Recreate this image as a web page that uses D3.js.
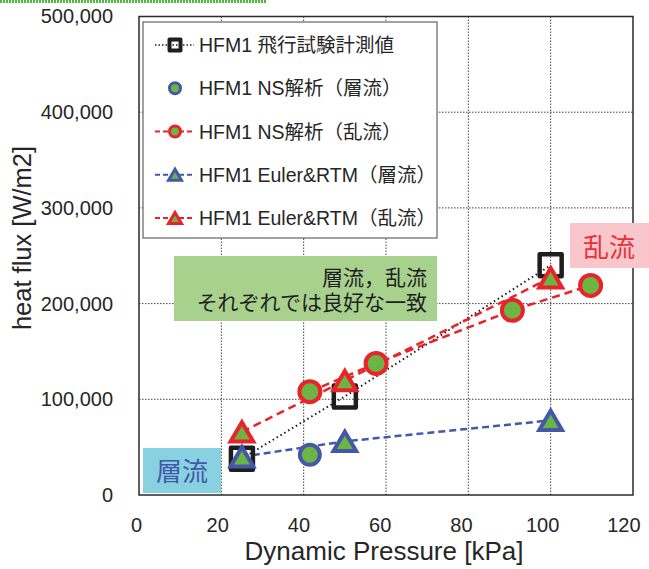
<!DOCTYPE html>
<html>
<head>
<meta charset="utf-8">
<script src="https://cdn.jsdelivr.net/npm/d3@7"></script>
<style>
  body { margin: 0; background: #fff; }
  svg text { font-family: "Liberation Sans", Arial, "Noto Sans CJK JP", sans-serif; fill: #262626; }
</style>
</head>
<body>
<svg width="649" height="569"></svg>
<script>
// ---------------- data ----------------
const flightP = [25, 50, 100];
const flightQ = [38000, 103000, 240000];

const nsLamP = [41.5];
const nsLamQ = [42000];

const nsTurbP = [41.5, 57.6, 90.7, 109.7];
const nsTurbQ = [108000, 137500, 193000, 219000];

const eulerLamP = [25, 50, 100];
const eulerLamQ = [40000, 56000, 78000];

const eulerTurbP = [25, 50, 100];
const eulerTurbQ = [66000, 119500, 227000];

const xTicks = [0, 20, 40, 60, 80, 100, 120];
const yTicks = [0, 100000, 200000, 300000, 400000, 500000];

const legendLabels = [
  'HFM1 飛行試験計測値',
  'HFM1 NS解析（層流）',
  'HFM1 NS解析（乱流）',
  'HFM1 Euler&RTM（層流）',
  'HFM1 Euler&RTM（乱流）'
];

// ---------------- setup ----------------
const RED = '#e8242a', BLUE = '#4458a8', GREEN = '#6cb443', BLACK = '#1e1e1e';

const svg = d3.select('svg');
const x = d3.scaleLinear().domain([0, 120]).range([139, 633]);
const y = d3.scaleLinear().domain([0, 500000]).range([495, 16.5]);

const zip = (a, b) => a.map((v, i) => [v, b[i]]);

// green dotted strip on top
svg.append('line')
  .attr('x1', 0).attr('x2', 266).attr('y1', 1.5).attr('y2', 1.5)
  .attr('stroke', '#4cbb3a').attr('stroke-width', 3).attr('stroke-dasharray', '2,1');

// grid
const grid = svg.append('g').attr('stroke', '#444').attr('stroke-width', 1).attr('stroke-dasharray', '1.5,1.5');
grid.selectAll('.gx').data(xTicks.slice(1, -1)).join('line')
  .attr('x1', d => x(d)).attr('x2', d => x(d)).attr('y1', y(0)).attr('y2', y(500000));
grid.selectAll('.gy').data(yTicks.slice(1, -1)).join('line')
  .attr('y1', d => y(d)).attr('y2', d => y(d)).attr('x1', x(0)).attr('x2', x(120));

// axes (labels only; frame drawn separately)
const xAxis = svg.append('g').attr('transform', `translate(0,${y(0)})`)
  .call(d3.axisBottom(x).tickValues(xTicks).tickSize(0).tickPadding(23));
const yAxis = svg.append('g').attr('transform', `translate(${x(0)},0)`)
  .call(d3.axisLeft(y).tickValues(yTicks).tickSize(0).tickPadding(26).tickFormat(d3.format(',')));
[xAxis, yAxis].forEach(a => {
  a.select('.domain').remove();
  a.selectAll('text').attr('font-size', 20).attr('fill', '#262626')
    .attr('font-family', '"Liberation Sans", Arial, sans-serif');
});
// x labels in the original drift a little to the left
xAxis.selectAll('text').attr('dx', d => -(3 + d * 0.055));

// frame
svg.append('rect')
  .attr('x', x(0)).attr('y', y(500000)).attr('width', x(120) - x(0)).attr('height', y(0) - y(500000))
  .attr('fill', 'none').attr('stroke', '#2a2a2a').attr('stroke-width', 1.5);

// axis titles
svg.append('text').attr('x', 384).attr('y', 560).attr('text-anchor', 'middle')
  .attr('font-size', 26).text('Dynamic Pressure [kPa]');
svg.append('text').attr('transform', 'translate(31,238) rotate(-90)').attr('text-anchor', 'middle')
  .attr('font-size', 25.5).text('heat flux [W/m2]');

// annotation boxes
svg.append('rect').attr('x', 174).attr('y', 256).attr('width', 263).attr('height', 65).attr('fill', '#a9d18e');
svg.append('text').attr('x', 427).attr('y', 285).attr('text-anchor', 'end').attr('font-size', 21)
  .style('fill', '#1e1e1e').text('層流，乱流');
svg.append('text').attr('x', 427).attr('y', 310).attr('text-anchor', 'end').attr('font-size', 21)
  .style('fill', '#1e1e1e').text('それぞれでは良好な一致');

svg.append('rect').attr('x', 570).attr('y', 223).attr('width', 79).attr('height', 45).attr('fill', '#f8c6cb');
svg.append('text').attr('x', 609).attr('y', 257).attr('text-anchor', 'middle').attr('font-size', 26)
  .style('fill', '#e8323a').text('乱流');

svg.append('rect').attr('x', 143).attr('y', 448).attr('width', 78).attr('height', 45).attr('fill', '#88d1e1');
svg.append('text').attr('x', 182).attr('y', 481).attr('text-anchor', 'middle').attr('font-size', 26)
  .style('fill', BLUE).text('層流');

// ---------------- series ----------------
const line = d3.line().x(d => x(d[0])).y(d => y(d[1]));

function triPath(w, h) {
  return `M0,${-h / 2}L${w / 2},${h / 2}L${-w / 2},${h / 2}Z`;
}

function drawMarkers(g, pts, kind, stroke, size, sw) {
  g.selectAll(null).data(pts).join('path')
    .attr('transform', d => `translate(${d[0]},${d[1]})`)
    .attr('d', () => {
      if (kind === 'square') return `M${-size / 2},${-size / 2}h${size}v${size}h${-size}Z`;
      if (kind === 'circle') return d3.symbol(d3.symbolCircle, Math.PI * (size / 2) ** 2)();
      return triPath(size * 1.08, size * 0.92);
    })
    .attr('fill', kind === 'square' ? 'none' : GREEN)
    .attr('stroke', stroke)
    .attr('stroke-width', sw)
    .attr('stroke-linejoin', kind === 'square' ? 'round' : 'miter');
}

const series = [
  { p: flightP, q: flightQ, kind: 'square', stroke: BLACK, dash: '1.5,3', lineColor: BLACK, size: 22, lw: 2 },
  { p: nsLamP, q: nsLamQ, kind: 'circle', stroke: BLUE, dash: null, lineColor: BLUE, size: 20, lw: 0 },
  { p: nsTurbP, q: nsTurbQ, kind: 'circle', stroke: RED, dash: '8,5', lineColor: RED, size: 21, lw: 2.5 },
  { p: eulerLamP, q: eulerLamQ, kind: 'tri', stroke: BLUE, dash: '7,4', lineColor: BLUE, size: 21, lw: 2.5 },
  { p: eulerTurbP, q: eulerTurbQ, kind: 'tri', stroke: RED, dash: '8,5', lineColor: RED, size: 21, lw: 2.5 }
];

const plot = svg.append('g');
series.forEach(s => {
  const pts = zip(s.p, s.q);
  if (s.lw > 0) {
    plot.append('path').attr('d', line(pts)).attr('fill', 'none')
      .attr('stroke', s.lineColor).attr('stroke-width', s.lw).attr('stroke-dasharray', s.dash);
  }
});
series.forEach(s => {
  const pts = zip(s.p, s.q).map(d => [x(d[0]), y(d[1])]);
  drawMarkers(plot.append('g'), pts, s.kind, s.stroke, s.size, s.kind === 'square' ? 4.5 : 4);
});

// ---------------- legend ----------------
const legend = svg.append('g');
legend.append('rect').attr('x', 143).attr('y', 22).attr('width', 294).attr('height', 216)
  .attr('fill', '#fff').attr('stroke', '#444').attr('stroke-width', 1);

const legendY = d3.scalePoint().domain(d3.range(legendLabels.length)).range([45, 218]);
series.forEach((s, i) => {
  const cy = legendY(i);
  if (s.lw > 0) {
    legend.append('line').attr('x1', 155).attr('x2', 194).attr('y1', cy).attr('y2', cy)
      .attr('stroke', s.lineColor).attr('stroke-width', s.kind === 'square' ? 1.5 : 2)
      .attr('stroke-dasharray', s.kind === 'square' ? '1.5,2' : '5,3');
  }
  const sz = s.kind === 'square' ? 11 : (s.kind === 'circle' ? 11 : 12);
  drawMarkers(legend.append('g'), [[175, cy]], s.kind, s.stroke, sz, s.kind === 'square' ? 4 : 3);
  legend.append('text').attr('x', 199).attr('y', cy + 7).attr('font-size', 19.5).text(legendLabels[i]);
});
</script>
</body>
</html>
